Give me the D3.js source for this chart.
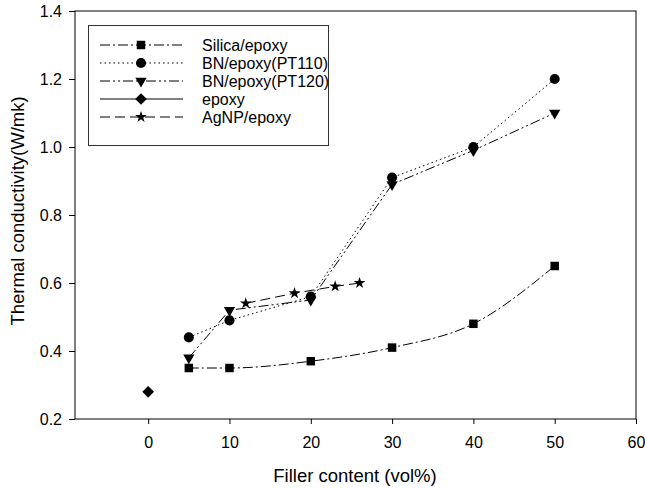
<!DOCTYPE html>
<html>
  <head>
    <meta charset='utf-8'>
    <title></title>
    <script src='https://d3js.org/d3.v7.min.js'></script>
    <style>
      body { margin: 0; background: #fff; }
      svg { display: block; font-family: 'Liberation Sans', Arial, sans-serif; }
      .axis path, .axis line { fill: none; stroke: #000; stroke-width: 1px; }
      .axis text { font-size: 16px; fill: #000; }
      .title { font-size: 18.5px; fill: #000; }
      .legend text { font-size: 16px; fill: #000; }
    </style>
  </head>
  <body>
  <script type='text/javascript'>

    // data
    var xTicks = [0, 10, 20, 30, 40, 50, 60];
    var yTicks = [0.2, 0.4, 0.6, 0.8, 1.0, 1.2, 1.4];

    var silicaX = [5, 10, 20, 30, 40, 50];
    var silicaY = [0.35, 0.35, 0.37, 0.41, 0.48, 0.65];

    var pt110X = [5, 10, 20, 30, 40, 50];
    var pt110Y = [0.44, 0.49, 0.56, 0.91, 1.0, 1.2];

    var pt120X = [5, 10, 20, 30, 40, 50];
    var pt120Y = [0.38, 0.52, 0.55, 0.89, 0.99, 1.1];

    var epoxyX = [0];
    var epoxyY = [0.28];

    var agnpX = [12, 18, 23, 26];
    var agnpY = [0.54, 0.57, 0.59, 0.60];

    var seriesNames = ['Silica/epoxy', 'BN/epoxy(PT110)', 'BN/epoxy(PT120)', 'epoxy', 'AgNP/epoxy'];

    var width = 645;
    var height = 488;
    var plot = {left: 75, right: 636, top: 11, bottom: 419};

    var x = d3.scaleLinear().domain([-9, 60]).range([plot.left, plot.right]);
    var y = d3.scaleLinear().domain([0.2, 1.4]).range([plot.bottom, plot.top]);

    var svg = d3.select('body')
              .append('svg')
              .attr('width', width)
              .attr('height', height);

    // frame
    svg.append('rect')
       .attr('x', plot.left).attr('y', plot.top)
       .attr('width', plot.right - plot.left)
       .attr('height', plot.bottom - plot.top)
       .attr('fill', 'none').attr('stroke', '#000');

    svg.append('g')
       .attr('class', 'axis')
       .attr('transform', 'translate(0,' + plot.bottom + ')')
       .call(d3.axisBottom(x).tickValues(xTicks).tickSize(5).tickPadding(13).tickFormat(d3.format('d')))
       .call(function(g) { g.select('.domain').remove(); });

    svg.append('g')
       .attr('class', 'axis')
       .attr('transform', 'translate(' + plot.left + ',0)')
       .call(d3.axisLeft(y).tickValues(yTicks).tickSize(6).tickPadding(7).tickFormat(d3.format('.1f')))
       .call(function(g) { g.select('.domain').remove(); });

    svg.append('text')
       .attr('class', 'title')
       .attr('x', 355).attr('y', 482)
       .attr('text-anchor', 'middle')
       .text('Filler content (vol%)');

    svg.append('text')
       .attr('class', 'title')
       .attr('transform', 'translate(23.5,211) rotate(-90)')
       .attr('text-anchor', 'middle')
       .text('Thermal conductivity(W/mk)');

    var series = [
      {name: seriesNames[0], xs: silicaX, ys: silicaY, dash: '10,3,2,3', curve: d3.curveMonotoneX,
       sym: d3.symbol().type(d3.symbolSquare).size(72), rot: 0},
      {name: seriesNames[1], xs: pt110X, ys: pt110Y, dash: '1.5,3', curve: d3.curveLinear,
       sym: d3.symbol().type(d3.symbolCircle).size(80), rot: 0},
      {name: seriesNames[2], xs: pt120X, ys: pt120Y, dash: '10,3,2,3,2,3', curve: d3.curveLinear,
       sym: d3.symbol().type(d3.symbolTriangle).size(55), rot: 180},
      {name: seriesNames[3], xs: epoxyX, ys: epoxyY, dash: null, curve: d3.curveLinear,
       sym: d3.symbol().type(d3.symbolSquare).size(68), rot: 45},
      {name: seriesNames[4], xs: agnpX, ys: agnpY, dash: '10,5', curve: d3.curveLinear,
       sym: d3.symbol().type(d3.symbolStar).size(42), rot: 0}
    ];

    series.forEach(function(s) {
      var pts = s.xs.map(function(v, i) { return [v, s.ys[i]]; });
      var line = d3.line()
                .curve(s.curve)
                .x(function(d) { return x(d[0]); })
                .y(function(d) { return y(d[1]); });
      svg.append('path')
         .datum(pts)
         .attr('d', line)
         .attr('fill', 'none')
         .attr('stroke', '#000')
         .attr('stroke-width', 1)
         .attr('stroke-dasharray', s.dash);
      svg.selectAll(null)
         .data(pts)
         .enter().append('path')
         .attr('d', s.sym)
         .attr('transform', function(d) { return 'translate(' + x(d[0]) + ',' + y(d[1]) + ') rotate(' + s.rot + ')'; })
         .attr('fill', '#000');
    });

    // legend
    var legend = svg.append('g').attr('class', 'legend');
    legend.append('rect')
          .attr('x', 88.5).attr('y', 25.5)
          .attr('width', 240).attr('height', 120)
          .attr('fill', '#fff').attr('stroke', '#333');

    series.forEach(function(s, i) {
      var ly = 45 + i * 18;
      legend.append('line')
            .attr('x1', 100).attr('x2', 183)
            .attr('y1', ly).attr('y2', ly)
            .attr('stroke', '#000')
            .attr('stroke-dasharray', s.dash);
      legend.append('path')
            .attr('d', s.sym)
            .attr('transform', 'translate(141,' + ly + ') rotate(' + s.rot + ')')
            .attr('fill', '#000');
      legend.append('text')
            .attr('x', 202).attr('y', ly + 6)
            .text(s.name);
    });

  </script>
  </body>
</html>
